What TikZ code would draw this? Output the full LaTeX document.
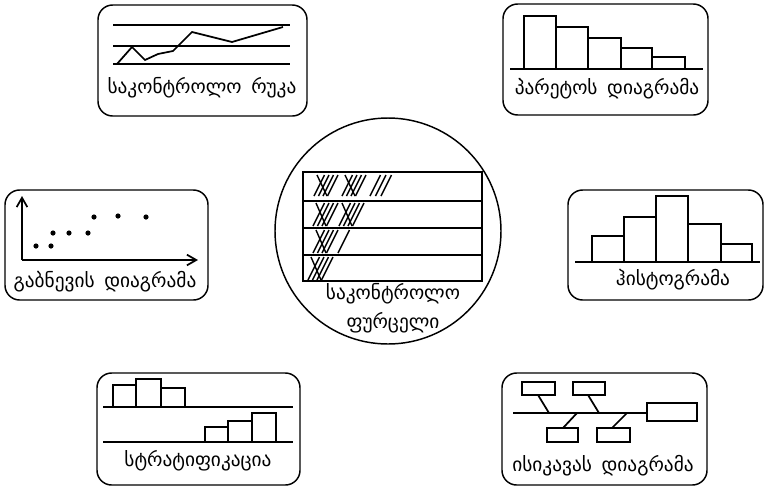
\documentclass[tikz,border=0pt]{standalone}
\usepackage{fontspec}
\newfontfamily\geo{DejaVu Sans}
\usetikzlibrary{arrows.meta}
\newcommand\tallygrp[3]{% x0, ytop, ybot
  \pgfmathsetmacro\tdx{0.5*(#3-#2)}
  \foreach \k in {0,1,2,3}{
    \draw[tly] ({#1+4.5*\k},#3) -- ({#1+4.5*\k+\tdx},#2);
  }
  \draw[tly] ({#1+3},#2) -- ({#1+13},#3);
}
\newcommand\tallyone[3]{%
  \pgfmathsetmacro\tdx{0.5*(#3-#2)}
  \draw[tly] (#1,#3) -- ({#1+\tdx},#2);
}
\begin{document}
\begin{tikzpicture}[x=0.75pt,y=-0.75pt,
  toolbox/.style={draw, line width=1.1pt, rounded corners=11pt},
  ln/.style={line width=1.3pt},
  barbox/.style={draw, line width=1.3pt},
  tly/.style={line width=1.05pt},
  lbl/.style={font=\geo\fontsize{14.5}{17}\selectfont, inner sep=0pt, align=center},
  dot/.style={fill=black}]
\useasboundingbox (0,0) rectangle (771,486);

% ---------- control chart (top left)
\draw[toolbox] (98,5) rectangle (307,116);
\foreach \yy in {25,46,64} \draw[ln] (113,\yy) -- (290,\yy);
\draw[ln] (117,64) -- (132,47) -- (145,60) -- (158,54) -- (173,51) -- (192,32) -- (232,42) -- (283,27);
\node[lbl] (tlabel) at (202,88) {საკონტროლო\hspace{0.5em}რუკა};

% ---------- Pareto (top right)
\draw[toolbox] (503,4) rectangle (708,115);
\draw[barbox] (524,69) rectangle (556,16);
\draw[barbox] (556,69) rectangle (588,27);
\draw[barbox] (588,69) rectangle (621,38);
\draw[barbox] (621,69) rectangle (652,48);
\draw[barbox] (652,69) rectangle (685,57);
\draw[ln] (510,69) -- (703,69);
\node[lbl] (prlabel) at (607,89) {პარეტოს\hspace{0.5em}დიაგრამა};

% ---------- scatter (left)
\draw[toolbox] (5,190) rectangle (208,300);
\coordinate (orig) at (22,260);
\coordinate (ytip) at (22,196);
\coordinate (xtip) at (198,260);
\draw[ln, -{Straight Barb[length=7pt,width=8pt]}] (orig) -- (ytip);
\draw[ln, -{Straight Barb[length=7pt,width=8pt]}] (orig) -- (xtip);
\foreach \px/\py in {36/246,51/246,53/233,69/233,88/233,94/217,118/216,146/217}
  \fill[dot] (\px,\py) circle (2.6);
\node[lbl] (sclabel) at (105,282) {გაბნევის\hspace{0.5em}დიაგრამა};

% ---------- histogram (right)
\draw[toolbox] (568,190) rectangle (763,300);
\draw[barbox] (592,262) rectangle (624,236);
\draw[barbox] (624,262) rectangle (656,217);
\draw[barbox] (656,262) rectangle (688,196);
\draw[barbox] (688,262) rectangle (721,224);
\draw[barbox] (721,262) rectangle (752,244);
\draw[ln] (575,262) -- (760,262);
\node[lbl] (hilabel) at (673,280) {ჰისტოგრამა};

% ---------- stratification (bottom left)
\draw[toolbox] (97,373) rectangle (300,485);
\draw[barbox] (113,407) rectangle (136,385);
\draw[barbox] (136,407) rectangle (161,379);
\draw[barbox] (161,407) rectangle (185,388);
\draw[ln] (103,407) -- (293,407);
\draw[barbox] (205,442) rectangle (228,427);
\draw[barbox] (228,442) rectangle (252,421);
\draw[barbox] (252,442) rectangle (276,413);
\draw[ln] (103,442) -- (293,442);
\node[lbl] (stlabel) at (198,461) {სტრატიფიკაცია};

% ---------- Ishikawa (bottom right)
\draw[toolbox] (502,373) rectangle (707,485);
\draw[ln] (513,413) -- (647,413);
\draw[barbox] (647,403) rectangle (697,421);
\draw[barbox] (522,382) rectangle (555,395);
\draw[barbox] (573,382) rectangle (605,395);
\draw[ln] (538,395) -- (549,413);
\draw[ln] (588,395) -- (599,413);
\draw[barbox] (547,428) rectangle (578,442);
\draw[barbox] (597,428) rectangle (630,442);
\draw[ln] (577,413) -- (563,428);
\draw[ln] (627,413) -- (612,428);
\node[lbl] (islabel) at (603,466) {ისიკავას\hspace{0.5em}დიაგრამა};

% ---------- check sheet (centre)
\draw[line width=1.1pt] (388,231) circle (113);
\draw[line width=1.3pt] (303,172) rectangle (482,281);
\foreach \yy in {201,228,255} \draw[line width=1.3pt] (303,\yy) -- (482,\yy);
\tallygrp{314}{175}{196}
\tallygrp{342}{175}{196}
\tallyone{370}{175}{196}
\tallyone{375.5}{175}{196}
\tallyone{381}{175}{196}
\tallygrp{313}{203}{226}
\tallygrp{339}{203}{226}
\tallygrp{313}{230}{253}
\tallyone{338}{230}{253}
\tallygrp{308}{257}{280}
\node[lbl] (cslabel1) at (393,294) {საკონტროლო};
\node[lbl] (cslabel2) at (393,323) {ფურცელი};
\end{tikzpicture}
\end{document}
